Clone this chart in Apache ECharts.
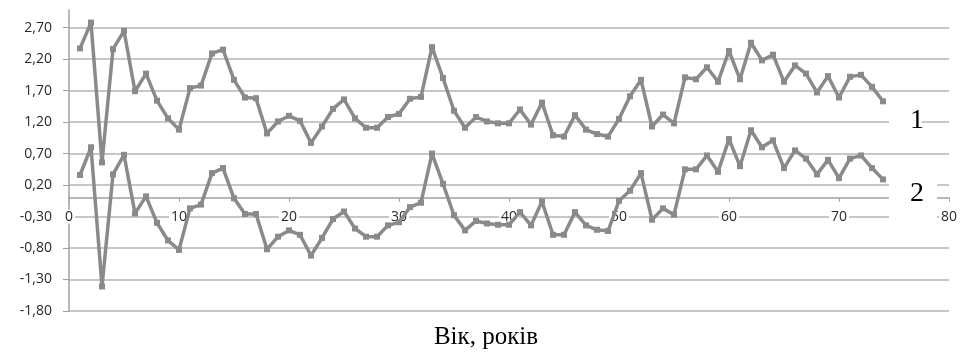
<!DOCTYPE html>
<html>
<head>
<meta charset="utf-8">
<script src="https://cdn.jsdelivr.net/npm/echarts@6/dist/echarts.min.js"></script>
<style>html,body{margin:0;padding:0;background:#fff;}#c{width:962px;height:356px;}</style>
</head>
<body>
<div id="c"></div>
<script>
const ages = [];
for (let a = 1; a <= 74; a++) ages.push(a);
const series1 = [2.37,2.78,0.56,2.36,2.65,1.69,1.97,1.54,1.26,1.08,1.74,1.78,2.29,2.35,1.87,1.59,1.58,1.02,1.21,1.30,1.22,0.87,1.13,1.41,1.56,1.26,1.11,1.11,1.28,1.33,1.57,1.60,2.39,1.90,1.38,1.11,1.28,1.21,1.18,1.18,1.40,1.16,1.51,0.99,0.97,1.31,1.08,1.01,0.97,1.25,1.61,1.87,1.13,1.32,1.18,1.91,1.88,2.07,1.84,2.33,1.88,2.46,2.18,2.27,1.84,2.10,1.97,1.67,1.93,1.59,1.92,1.95,1.76,1.53];
const series2 = [0.36,0.80,-1.41,0.37,0.68,-0.25,0.02,-0.40,-0.68,-0.83,-0.17,-0.11,0.39,0.47,-0.01,-0.26,-0.26,-0.82,-0.62,-0.52,-0.59,-0.92,-0.64,-0.34,-0.22,-0.49,-0.62,-0.62,-0.44,-0.39,-0.15,-0.08,0.70,0.22,-0.28,-0.52,-0.37,-0.41,-0.43,-0.43,-0.23,-0.44,-0.06,-0.59,-0.59,-0.23,-0.44,-0.51,-0.53,-0.05,0.11,0.39,-0.35,-0.17,-0.27,0.45,0.45,0.67,0.41,0.93,0.50,1.07,0.80,0.91,0.47,0.75,0.62,0.37,0.60,0.31,0.62,0.67,0.47,0.29];
const seriesLabels = ['1', '2'];
const xTitle = 'Вік, років';

const chart = echarts.init(document.getElementById('c'), null, {renderer: 'canvas'});
const lineColor = '#8a8a8a';
function mk(vals) {
  return {
    type: 'line',
    data: ages.map((a, i) => [a, vals[i]]),
    symbol: 'rect',
    symbolSize: 6,
    showSymbol: true,
    lineStyle: {color: lineColor, width: 3.5},
    itemStyle: {color: lineColor},
    animation: false
  };
}
chart.setOption({
  animation: false,
  backgroundColor: '#fff',
  grid: {left: 69, right: 9, top: 10, bottom: 45},
  xAxis: {
    type: 'value', min: 0, max: 80, interval: 10, position: 'bottom', offset: 0,
    axisLine: {onZero: false, lineStyle: {color: '#a0a0a0', width: 1.5}},
    axisTick: {show: true, length: 4, lineStyle: {color: '#a0a0a0'}},
    axisLabel: {color: '#2a2a2a', fontFamily: 'Open Sans', fontSize: 14, margin: 12,
      backgroundColor: '#fff', padding: [0, 2]},
    splitLine: {show: false}
  },
  yAxis: {
    type: 'value', min: -1.8, max: 2.98, interval: 0.5,
    axisLine: {show: true, onZero: false, lineStyle: {color: '#a0a0a0', width: 1.5}},
    axisTick: {show: true, length: 6, lineStyle: {color: '#a0a0a0'}},
    axisLabel: {color: '#2a2a2a', fontFamily: 'Open Sans', fontSize: 14, margin: 17,
      showMaxLabel: false,
      formatter: v => (v > 2.8 ? '' : v.toFixed(2).replace('.', ','))},
    splitLine: {show: true, showMaxLine: false, lineStyle: {color: '#b4b4b4', width: 1.5}}
  },
  series: [mk(series1), mk(series2)],
  graphic: [
    {type: 'rect', shape: {x: 889, y: 92, width: 33, height: 50}, style: {fill: '#fff'}, z: 100},
    {type: 'text', x: 917, y: 121, style: {text: seriesLabels[0], fontFamily: 'Liberation Serif', fontSize: 28, fill: '#000', align: 'center', verticalAlign: 'middle'}, z: 101},
    {type: 'rect', shape: {x: 889, y: 165, width: 48, height: 60}, style: {fill: '#fff'}, z: 100},
    {type: 'text', x: 917, y: 194, style: {text: seriesLabels[1], fontFamily: 'Liberation Serif', fontSize: 28, fill: '#000', align: 'center', verticalAlign: 'middle'}, z: 101},
    {type: 'text', x: 486, y: 337, style: {text: xTitle, fontFamily: 'Liberation Serif', fontSize: 25, fill: '#000', align: 'center', verticalAlign: 'middle'}, z: 101}
  ]
});
// place the x axis on the y = 0 line using the library's own y scale
const zeroY = chart.convertToPixel({yAxisIndex: 0}, 0);
const bottomY = chart.convertToPixel({yAxisIndex: 0}, -1.8);
chart.setOption({xAxis: {offset: -(bottomY - zeroY)}});
</script>
</body>
</html>
